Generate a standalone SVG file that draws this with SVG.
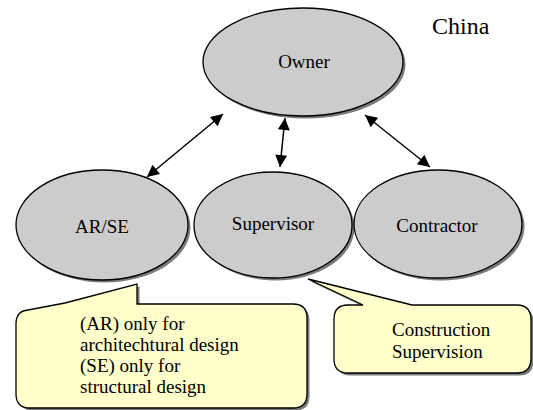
<svg xmlns="http://www.w3.org/2000/svg" width="533" height="410" viewBox="0 0 533 410">
  <style>
    .node { fill: #cccccc; stroke: #000000; stroke-width: 1.3; }
    .shadow { fill: #7a7a7a; stroke: none; }
    .note { fill: #ffffcc; stroke: #000000; stroke-width: 1.3; stroke-linejoin: miter; }
    .label { font-family: "Liberation Serif", "Times New Roman", "DejaVu Serif", serif; font-size: 19px; fill: #000000; }
    .mid { text-anchor: middle; }
    .link { stroke: #000000; stroke-width: 1.5; fill: none; marker-start: url(#head); marker-end: url(#head); }
  </style>
  <defs>
    <marker id="head" viewBox="0 0 10 10" refX="10" refY="5" markerUnits="userSpaceOnUse" markerWidth="15" markerHeight="12" orient="auto-start-reverse">
      <path d="M0,0 L10,5 L0,10 Z" fill="#000000"/>
    </marker>
  </defs>

  <rect width="533" height="410" fill="#ffffff"/>

  <text class="label" x="432" y="34" style="font-size:24px">China</text>

  <!-- two-way links between the owner and the other parties -->
  <g id="connectors">
    <line class="link" x1="147" y1="177" x2="223" y2="114"/>
    <line class="link" x1="280" y1="167" x2="285" y2="118"/>
    <line class="link" x1="430" y1="167" x2="365" y2="115"/>
  </g>

  <g id="owner">
    <ellipse class="shadow" cx="305.5" cy="64.5" rx="100" ry="54"/>
    <ellipse class="node" cx="303" cy="62" rx="100" ry="54"/>
    <text class="label mid" x="304" y="68">Owner</text>
  </g>

  <g id="ar-se">
    <ellipse class="shadow" cx="104.5" cy="227.5" rx="86" ry="55"/>
    <ellipse class="node" cx="102" cy="225" rx="86" ry="55"/>
    <text class="label mid" x="102" y="233">AR/SE</text>
  </g>

  <g id="supervisor">
    <ellipse class="shadow" cx="275.5" cy="227.5" rx="79" ry="53"/>
    <ellipse class="node" cx="273" cy="225" rx="79" ry="53"/>
    <text class="label mid" x="273" y="230">Supervisor</text>
  </g>

  <g id="contractor">
    <ellipse class="shadow" cx="440.5" cy="226.5" rx="84" ry="54"/>
    <ellipse class="node" cx="438" cy="224" rx="84" ry="54"/>
    <text class="label mid" x="437" y="232">Contractor</text>
  </g>

  <!-- callout pointing up at AR/SE -->
  <g id="note-design">
    <path class="shadow" transform="translate(2.5,2.5)" d="M16,394 L16,324 Q16,311 28,310 L65,303 L137,284 L137,304 L293,304 Q307,304 307,318 L307,394 Q307,408 293,408 L30,408 Q16,408 16,394 Z"/>
    <path class="note" d="M16,394 L16,324 Q16,311 28,310 L65,303 L137,284 L137,304 L293,304 Q307,304 307,318 L307,394 Q307,408 293,408 L30,408 Q16,408 16,394 Z"/>
    <text class="label" x="80" y="330">(AR) only for</text>
    <text class="label" x="80" y="351">architechtural design</text>
    <text class="label" x="80" y="372">(SE) only for</text>
    <text class="label" x="80" y="393">structural design</text>
  </g>

  <!-- callout pointing at Supervisor -->
  <g id="note-supervision">
    <path class="shadow" transform="translate(2.5,2.5)" d="M334,319 Q334,305 348,305 L363,305 L308,279 L412,305 L517,305 Q531,305 531,320 L531,358 Q531,373 517,373 L348,373 Q334,373 334,359 Z"/>
    <path class="note" d="M334,319 Q334,305 348,305 L363,305 L308,279 L412,305 L517,305 Q531,305 531,320 L531,358 Q531,373 517,373 L348,373 Q334,373 334,359 Z"/>
    <text class="label" x="392" y="336">Construction</text>
    <text class="label" x="392" y="358">Supervision</text>
  </g>
</svg>
